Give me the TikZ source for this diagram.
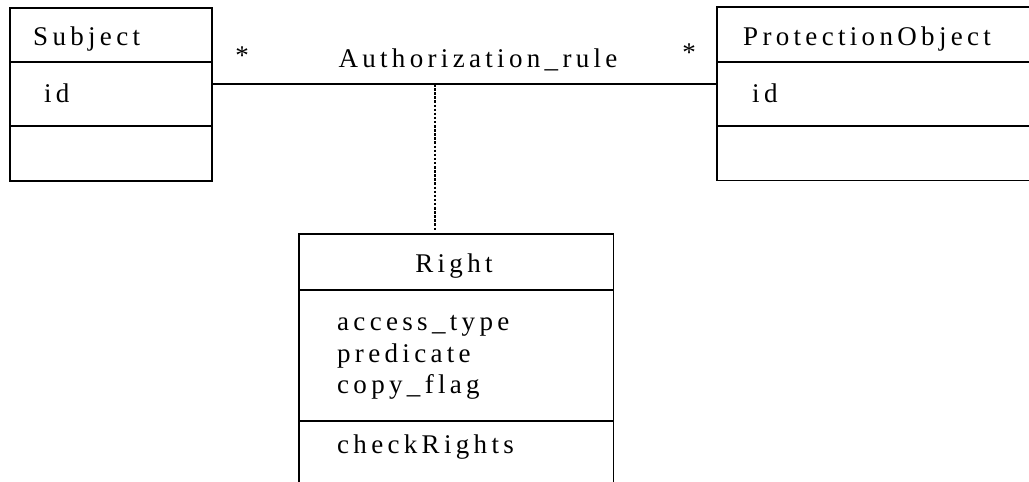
\documentclass[tikz,border=0pt]{standalone}
\usepackage{fontspec}
\setmainfont{Liberation Serif}[LetterSpace=16]
\begin{document}
\begin{tikzpicture}[x=1pt,y=-1pt,
  classbox/.style={draw, line width=1.8pt, rectangle, inner sep=0pt, anchor=north west},
  openbox/.style={rectangle, inner sep=0pt, anchor=north west},
  divider/.style={line width=1.8pt},
  assocline/.style={line width=1.5pt},
  linkline/.style={line width=2pt, dash pattern=on 2.5pt off 1.6pt},
  txt/.style={anchor=base west, inner sep=0pt, font=\fontsize{27}{32}\selectfont},
  ctxt/.style={anchor=base, inner sep=0pt, font=\fontsize{27}{32}\selectfont}]
\useasboundingbox (0,0) rectangle (1029,482);
\clip (0,0) rectangle (1029,482);

% class outlines
\node[classbox, minimum width=202pt, minimum height=173pt] (subject) at (9,7) {};
\node[openbox, minimum width=330pt, minimum height=173pt] (prot) at (717,7) {};
\node[openbox, minimum width=314pt, minimum height=260pt] (right) at (299,234) {};
% these two run past the edge of the sheet: only three sides are drawn
\draw[divider] (prot.north east) -- (prot.north west) -- (prot.south west) -- (prot.south east);
\draw[divider] (right.south west) -- (right.north west) -- (right.north east) -- (right.south east);

% compartment dividers
\draw[divider] (subject.west |- 0,62) -- (subject.east |- 0,62);
\draw[divider] (subject.west |- 0,126) -- (subject.east |- 0,126);
\draw[divider] (prot.west |- 0,62) -- (prot.east |- 0,62);
\draw[divider] (prot.west |- 0,126) -- (prot.east |- 0,126);
\draw[divider] (right.west |- 0,290) -- (right.east |- 0,290);
\draw[divider] (right.west |- 0,421) -- (right.east |- 0,421);

% class names and members
\node[txt] (subjname) at (33,45) {Subject};
\node[txt] (subjid) at (44,102) {id};
\node[txt] (protname) at (743,45) {ProtectionObject};
\node[txt] (protid) at (752,102) {id};
\node[ctxt] (rightname) at (454,272) {Right};
\node[txt] (attr1) at (337,330) {access\_type};
\node[txt] (attr2) at (337,362) {predicate};
\node[txt] (attr3) at (337,393) {copy\_flag};
\node[txt] (op1) at (337,453) {checkRights};

% association with multiplicities and name
\coordinate (mid) at (435,84);
\draw[assocline] (subject.east |- mid) -- (prot.west |- mid);
\node[ctxt] (assocname) at (478,67) {Authorization\_rule};
\node[ctxt] (multl) at (242,64) {*};
\node[ctxt] (multr) at (689,61) {*};

% association class link
\draw[linkline] (mid) -- ([yshift=4pt]mid |- right.north);
\end{tikzpicture}
\end{document}
